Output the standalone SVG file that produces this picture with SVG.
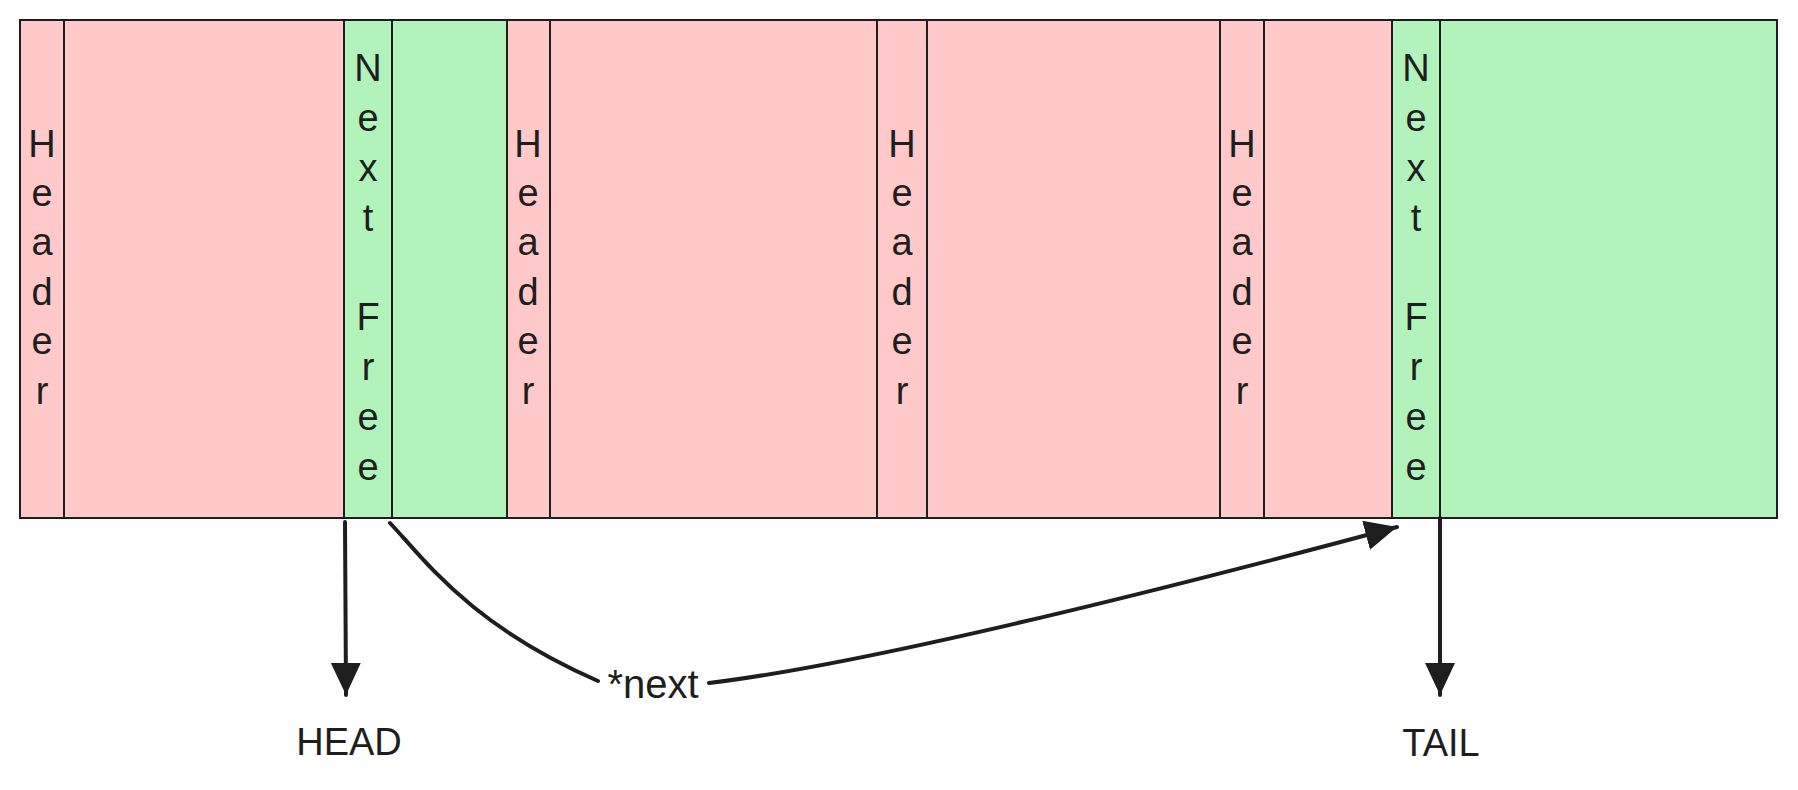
<svg xmlns="http://www.w3.org/2000/svg" width="1798" height="790" viewBox="0 0 1798 790">
<style>
.used{fill:#ffc9c9;stroke:#1e1e1e;stroke-width:2}
.free{fill:#b2f2bb;stroke:#1e1e1e;stroke-width:2}
.lbl{font-family:"Liberation Sans",Arial,sans-serif;font-size:38px;fill:#1e1e1e;text-anchor:middle}
.conn{fill:none;stroke:#1e1e1e;stroke-width:4;stroke-linecap:round}
</style>
<defs>
<marker id="ah" markerUnits="userSpaceOnUse" markerWidth="40" markerHeight="40" refX="32" refY="15" orient="auto">
<path d="M0,0 L32,15 L0,30 Z" fill="#1e1e1e"/>
</marker>
</defs>
<rect width="1798" height="790" fill="#ffffff"/>
<g id="header1"><rect class="used" x="20" y="20" width="44" height="498"/>
<text class="lbl"><tspan x="42" y="157">H</tspan><tspan x="42" y="206">e</tspan><tspan x="42" y="255">a</tspan><tspan x="42" y="305">d</tspan><tspan x="42" y="354">e</tspan><tspan x="42" y="404">r</tspan></text></g>
<g id="body1"><rect class="used" x="64" y="20" width="280" height="498"/></g>
<g id="nextfree1"><rect class="free" x="344" y="20" width="48" height="498"/>
<text class="lbl"><tspan x="368" y="81">N</tspan><tspan x="368" y="131">e</tspan><tspan x="368" y="181">x</tspan><tspan x="368" y="231">t</tspan><tspan x="368" y="330">F</tspan><tspan x="368" y="380">r</tspan><tspan x="368" y="430">e</tspan><tspan x="368" y="480">e</tspan></text></g>
<g id="free1"><rect class="free" x="392" y="20" width="115" height="498"/></g>
<g id="header2"><rect class="used" x="507" y="20" width="43" height="498"/>
<text class="lbl"><tspan x="528" y="157">H</tspan><tspan x="528" y="206">e</tspan><tspan x="528" y="255">a</tspan><tspan x="528" y="305">d</tspan><tspan x="528" y="354">e</tspan><tspan x="528" y="404">r</tspan></text></g>
<g id="body2"><rect class="used" x="550" y="20" width="327" height="498"/></g>
<g id="header3"><rect class="used" x="877" y="20" width="50" height="498"/>
<text class="lbl"><tspan x="902" y="157">H</tspan><tspan x="902" y="206">e</tspan><tspan x="902" y="255">a</tspan><tspan x="902" y="305">d</tspan><tspan x="902" y="354">e</tspan><tspan x="902" y="404">r</tspan></text></g>
<g id="body3"><rect class="used" x="927" y="20" width="293" height="498"/></g>
<g id="header4"><rect class="used" x="1220" y="20" width="44" height="498"/>
<text class="lbl"><tspan x="1242" y="157">H</tspan><tspan x="1242" y="206">e</tspan><tspan x="1242" y="255">a</tspan><tspan x="1242" y="305">d</tspan><tspan x="1242" y="354">e</tspan><tspan x="1242" y="404">r</tspan></text></g>
<g id="body4"><rect class="used" x="1264" y="20" width="128" height="498"/></g>
<g id="nextfree2"><rect class="free" x="1392" y="20" width="48" height="498"/>
<text class="lbl"><tspan x="1416" y="81">N</tspan><tspan x="1416" y="131">e</tspan><tspan x="1416" y="181">x</tspan><tspan x="1416" y="231">t</tspan><tspan x="1416" y="330">F</tspan><tspan x="1416" y="380">r</tspan><tspan x="1416" y="430">e</tspan><tspan x="1416" y="480">e</tspan></text></g>
<g id="free2"><rect class="free" x="1440" y="20" width="337" height="498"/></g>
<g id="head"><text class="lbl" x="349" y="755">HEAD</text></g>
<g id="tail"><text class="lbl" x="1441" y="756">TAIL</text></g>
<g id="connectors">
<path class="conn" d="M345,522 L346,695" marker-end="url(#ah)"/>
<path class="conn" d="M1440,518 L1440,695" marker-end="url(#ah)"/>
<path class="conn" d="M390,523 C425,560 470,625 598,681"/>
<path class="conn" d="M709,683 Q900,660 1397,527" marker-end="url(#ah)"/>
<text class="lbl" x="653" y="698" style="font-size:40px">*next</text>
</g>
</svg>
